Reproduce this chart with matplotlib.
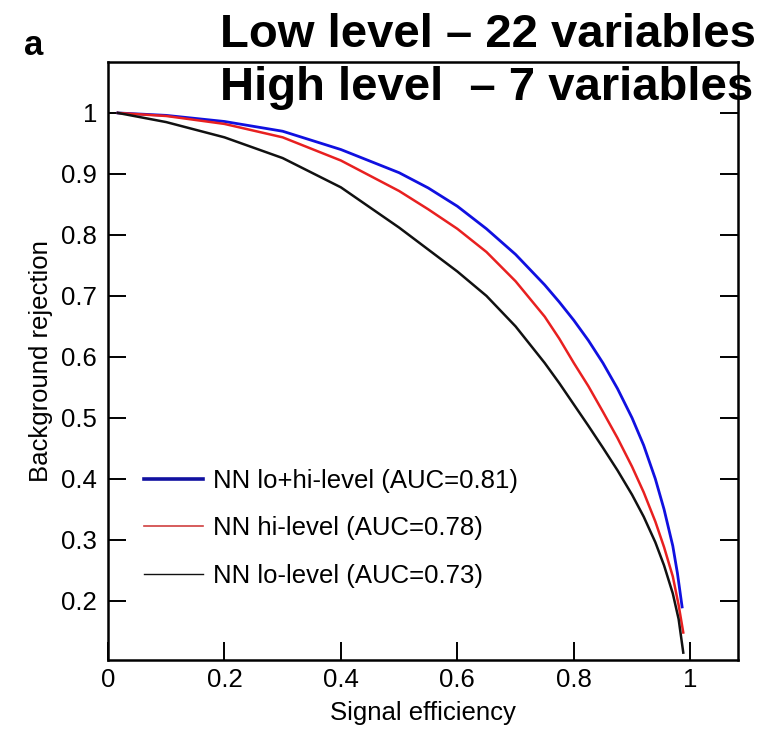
import numpy as np
import matplotlib.pyplot as plt
from matplotlib.lines import Line2D

plt.rcParams['font.family'] = ['Liberation Sans', 'DejaVu Sans']

# точки ROC-кривых
eff_both = [0.017, 0.1, 0.2, 0.3, 0.4, 0.5, 0.55, 0.6, 0.65, 0.7, 0.75, 0.775, 0.8, 0.825,
            0.85, 0.875, 0.9, 0.92, 0.94, 0.955, 0.97, 0.978, 0.986]
rej_both = [1.0, 0.996, 0.986, 0.97, 0.94, 0.902, 0.877, 0.847, 0.81, 0.768, 0.718, 0.69, 0.66, 0.627,
            0.59, 0.548, 0.5, 0.455, 0.4, 0.35, 0.29, 0.245, 0.19]

eff_hi = [0.017, 0.1, 0.2, 0.3, 0.4, 0.5, 0.55, 0.6, 0.65, 0.7, 0.75, 0.775, 0.8, 0.825,
          0.85, 0.875, 0.9, 0.92, 0.94, 0.955, 0.97, 0.98, 0.988]
rej_hi = [1.0, 0.995, 0.982, 0.96, 0.922, 0.872, 0.842, 0.81, 0.772, 0.724, 0.666, 0.63, 0.59, 0.552,
          0.51, 0.467, 0.42, 0.378, 0.33, 0.288, 0.24, 0.193, 0.148]

eff_lo = [0.017, 0.1, 0.2, 0.3, 0.4, 0.5, 0.55, 0.6, 0.65, 0.7, 0.75, 0.775, 0.8, 0.825,
          0.85, 0.875, 0.9, 0.92, 0.94, 0.955, 0.97, 0.98, 0.988]
rej_lo = [1.0, 0.985, 0.96, 0.926, 0.878, 0.812, 0.776, 0.74, 0.7, 0.65, 0.59, 0.557, 0.522, 0.487,
          0.451, 0.414, 0.374, 0.338, 0.296, 0.258, 0.212, 0.17, 0.115]

labels = ['NN lo+hi-level (AUC=0.81)', 'NN hi-level (AUC=0.78)', 'NN lo-level (AUC=0.73)']
xticks = [0, 0.2, 0.4, 0.6, 0.8, 1]
yticks = [0.2, 0.3, 0.4, 0.5, 0.6, 0.7, 0.8, 0.9, 1]

fig = plt.figure(figsize=(7.78, 7.29), dpi=100)
ax = fig.add_axes([0.1388, 0.0947, 0.8098, 0.8203])

ax.plot(eff_both, rej_both, color='#1010e0', lw=2.0)
ax.plot(eff_hi, rej_hi, color='#e82020', lw=1.8)
ax.plot(eff_lo, rej_lo, color='#111111', lw=1.8)

ax.set_xlim(0, 1.082)
ax.set_ylim(0.103, 1.0836)
ax.set_xticks(xticks)
ax.set_xticklabels(['0', '0.2', '0.4', '0.6', '0.8', '1'])
ax.set_yticks(yticks)
ax.set_yticklabels(['0.2', '0.3', '0.4', '0.5', '0.6', '0.7', '0.8', '0.9', '1'])
ax.tick_params(direction='in', length=13, width=1.4, labelsize=18.5,
               right=True, pad=6)
ax.tick_params(axis='y', pad=8)
for s in ax.spines.values():
    s.set_linewidth(1.8)

ax.set_xlabel('Signal efficiency', fontsize=18.5, labelpad=6)
ax.set_ylabel('Background rejection', fontsize=18.5, labelpad=6)

handles = [Line2D([], [], color='#1010a0', lw=2.6),
           Line2D([], [], color='#d04040', lw=1.2),
           Line2D([], [], color='#111111', lw=1.0)]
ax.legend(handles, labels, loc='center left', bbox_to_anchor=(0.02, 0.22),
          frameon=False, fontsize=18.5, handlelength=2.3, handletextpad=0.38,
          labelspacing=0.9)

fig.text(0.031, 0.925, 'a', fontsize=25, fontweight='bold')
fig.text(0.283, 0.9355, 'Low level \u2013 22 variables', fontsize=34, fontweight='bold')
fig.text(0.283, 0.8628, 'High level  \u2013 7 variables', fontsize=34, fontweight='bold')

fig.savefig('out.png', dpi=100)
